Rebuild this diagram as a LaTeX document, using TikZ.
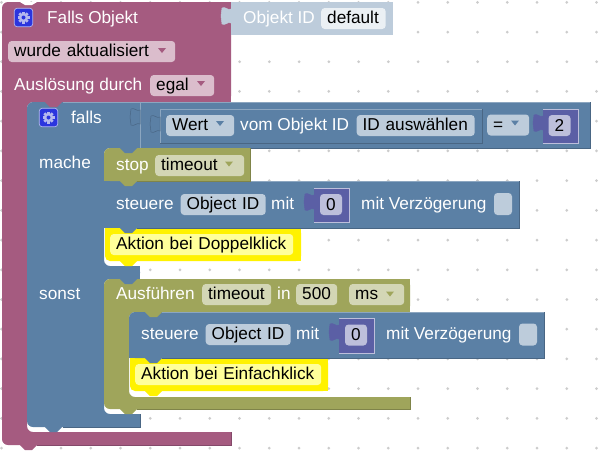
\documentclass[tikz,border=0pt]{standalone}
\usepackage{fontspec}
\setmainfont{Liberation Sans}
\usepackage{tikz}
\usetikzlibrary{positioning}
\definecolor{plum}{HTML}{A55B80}
\definecolor{plumfield}{HTML}{DBBDCC}
\definecolor{plumdark}{HTML}{84496A}
\definecolor{steel}{HTML}{5B80A5}
\definecolor{steelfield}{HTML}{BDCCDB}
\definecolor{steeldark}{HTML}{496684}
\definecolor{steellight}{HTML}{8CA6C0}
\definecolor{olive}{HTML}{9FA55B}
\definecolor{olivefield}{HTML}{D3D6B5}
\definecolor{olivedark}{HTML}{7F8449}
\definecolor{violet}{HTML}{5B5FA5}
\definecolor{violetfield}{HTML}{BDBFDB}
\definecolor{softyellow}{HTML}{FFFF99}
\definecolor{griddot}{HTML}{CCCCCC}
\definecolor{gearblue}{HTML}{2B35DE}
\definecolor{gearlight}{HTML}{B4B8EE}
\tikzset{
  fieldbox/.style={rounded corners=3.5pt, text=black, anchor=base west, align=left, inner xsep=6pt, inner ysep=1.5pt, text height=14pt, text depth=4pt},
  whitetext/.style={text=white, anchor=base west, inner sep=0pt},
  iconbox/.style={draw=gearlight, fill=gearblue, rounded corners=3pt, minimum size=18.5pt, inner sep=0pt, line width=0.7pt},
  emptybox/.style={fill=steelfield, rounded corners=3.5pt, minimum width=18pt, minimum height=22pt, inner sep=0pt},
  nfield/.style={fill=violetfield, rounded corners=3.5pt, text=black, minimum width=22pt, minimum height=21pt, inner sep=0pt}
}
% a notch, walked from left to right
\newcommand{\nr}{-- ++(5,5) -- ++(7,0) -- ++(5,-5)}
\newcommand{\pickarrow}[3]{\fill[#3] (#1-4,#2-2.5) -- ++(8,0) -- ++(-4,5) -- cycle;}
\newcommand{\puzzle}[3]{\filldraw[#3, line width=0.5pt] (#1,#2) .. controls (#1-3,#2+2) and (#1-6,#2-3) .. (#1-9,#2-1)
  -- (#1-10,#2+7) -- (#1-9,#2+15) .. controls (#1-6,#2+17) and (#1-3,#2+12) .. (#1,#2+14) -- cycle;}
\newcommand{\gear}[1]{
  \foreach \a in {0,45,...,315}
    \fill[gearlight, rotate around={\a:(#1)}] ([xshift=-1.3pt,yshift=3pt]#1) rectangle ([xshift=1.3pt,yshift=6pt]#1);
  \fill[gearlight] (#1) circle (4.6pt);
  \fill[gearblue] (#1) circle (2pt);
}
\begin{document}
\begin{tikzpicture}[x=1pt,y=-1pt,font=\fontsize{17.2}{20}\selectfont]
  \useasboundingbox (0,0) rectangle (601,451);
  \fill[white] (0,0) rectangle (601,451);
  \foreach \i in {0,...,20}
    \foreach \j in {0,...,15}
      \fill[griddot] (1.5+29.75*\i,2.3+29.72*\j) circle (1.5pt);

  % hat block
  \fill[plum, rounded corners=6pt] (2,20) -- (2,2) -- (231,2) -- (231,102) -- (27,102) -- (27,432) -- (231,432) -- (231,445) -- (37,445) -- (2,445) -- cycle;
  \fill[plum] (20,445) \nr -- cycle;
  \fill[plum] (225,2) rectangle (231,20);
  \fill[plum] (225,90) rectangle (231,102);
  \fill[plum] (220,432) rectangle (231,445);
  \fill[white] (20,2) -- (25,5) -- (32,5) -- (37,2) -- cycle;
  \draw[plumdark, line width=0.6pt] (37,445) -- (231,445) -- (231,432);

  % value block next to the hat
  \fill[steelfield] (231,2) rectangle (393,35);
  \puzzle{231}{9}{fill=steelfield, draw=steelfield}
  \node[iconbox] (gearhat) at (23.5,17.5) {};
  \gear{gearhat}
  \node[whitetext] (txthat) at (47,23.5) {Falls Objekt};
  \node[whitetext] (txtid) at (243,23.5) {Objekt ID};
  \node[fieldbox, fill=white!70!steelfield, text width=52.5pt] (flddefault) at (321,23.5) {default};
  \node[fieldbox, fill=plumfield, text width=155pt] (fldwurde) at (8,56.5) {wurde aktualisiert};
  \pickarrow{162}{50.5}{plum}
  \node[whitetext] (txtausl) at (14,90.5) {Auslösung durch};
  \node[fieldbox, fill=plumfield, text width=52pt] (fldegal) at (150,90.5) {egal};
  \pickarrow{201}{83.5}{plum}

  % if block
  \fill[steel, rounded corners=6pt] (27,125) -- (27,102) -- (590,102) -- (590,148) -- (104,148) -- (104,266) -- (140,266) -- (140,279) -- (104,279) -- (104,414) -- (140,414) -- (140,427) -- (27,427) -- cycle;
  \fill[steel] (570,102) rectangle (590,148);
  \fill[steel] (125,266) rectangle (140,279);
  \fill[steel] (125,414) rectangle (140,427);
  \fill[steel] (45,427) \nr -- cycle;
  \fill[plum] (45,102) \nr -- cycle;
  \draw[steeldark, line width=0.6pt] (140,148) -- (590,148) -- (590,102);
  \draw[steeldark, line width=0.6pt] (63,427) -- (140,427) -- (140,414);
  \draw[steellight, line width=0.6pt] (63,102) -- (590,102);
  \draw[steellight, line width=0.6pt] (140,102) -- (140,148);
  \puzzle{140}{110}{fill=steel, draw=steeldark}
  \node[iconbox] (gearif) at (48.5,117.5) {};
  \gear{gearif}
  \node[whitetext] (txtfalls) at (71,123.5) {falls};
  \node[whitetext] (txtmache) at (39,168.5) {mache};
  \node[whitetext] (txtsonst) at (39,299.5) {sonst};

  % condition
  \filldraw[fill=steel, draw=steeldark, line width=0.7pt] (160,109) rectangle (482,143);
  \draw[steellight, line width=0.6pt] (160,143) -- (160,109) -- (482,109);
  \puzzle{160}{117}{fill=steel, draw=steeldark}
  \node[fieldbox, fill=steelfield, text width=56pt] (fldwert) at (166,130.5) {Wert};
  \pickarrow{220}{123.5}{steel}
  \node[whitetext] (txtvom) at (240,130.5) {vom Objekt ID};
  \node[fieldbox, fill=steelfield, text width=106pt] (fldauswahl) at (356.5,130.5) {ID auswählen};
  \node[fieldbox, fill=steelfield, text width=30pt] (fldeq) at (487,130) {=};
  \pickarrow{515}{123}{steel}
  \fill[violet] (543,109) rectangle (578,143);
  \draw[violetfield, line width=0.6pt] (543,143) -- (578,143) -- (578,109) -- (543,109);
  \puzzle{543}{116}{fill=violet, draw=violet}
  \node[nfield] (fldtwo) at (559.5,125.5) {2};

  % then branch
  \fill[yellow, rounded corners=5pt] (105,240) -- (105,261) -- (301,261) -- (301,228) -- (105,228) -- cycle;
  \fill[yellow] (290,228) rectangle (301,261);
  \fill[yellow] (105,228) rectangle (115,245);
  \fill[yellow] (120,261) \nr -- cycle;
  \node[fieldbox, fill=softyellow, text width=171pt] (fldaktion) at (110,249.5) {Aktion bei Doppelklick};
  \fill[steel] (104,181) rectangle (519,228);
  \fill[steel] (120,228) \nr -- cycle;
  \draw[steeldark, line width=0.6pt] (137,228) -- (519,228) -- (519,181);
  \draw[steellight, line width=0.6pt] (250,181.5) -- (519,181.5);
  \node[whitetext] (txtst) at (116,209.5) {steuere};
  \node[fieldbox, fill=steelfield, text width=73pt] (fldobj) at (180.5,209.5) {Object ID};
  \node[whitetext] (txtmit) at (271,209.5) {mit};
  \fill[violet] (314,188) rectangle (349,222);
  \draw[violetfield, line width=0.6pt] (314,222) -- (349,222) -- (349,188) -- (314,188);
  \puzzle{314}{195}{fill=violet, draw=violet}
  \node[nfield] (fldzero) at (331,204.5) {0};
  \node[whitetext] (txtverz) at (361,209.5) {mit Verzögerung};
  \node[emptybox] (chkone) at (503,204) {};
  \fill[olive, rounded corners=6pt] (104,170) -- (104,148) -- (250,148) -- (250,181) -- (104,181) -- cycle;
  \fill[olive] (240,148) rectangle (250,181);
  \fill[olive] (104,165) rectangle (125,181);
  \fill[olive] (120,181) \nr -- cycle;
  \fill[steel] (120,148) \nr -- cycle;
  \draw[olivedark, line width=0.6pt] (137,181) -- (250,181) -- (250,148);
  \node[whitetext] (txtstop) at (116,170.5) {stop};
  \node[fieldbox, fill=olivefield, text width=77pt] (fldstop) at (155,170.5) {timeout};
  \pickarrow{229}{164}{olive}

  % else branch
  \fill[olive, rounded corners=6pt] (104,300) -- (104,279) -- (410,279) -- (410,312) -- (129,312) -- (129,397) -- (410,397) -- (410,409) -- (104,409) -- cycle;
  \fill[olive] (400,279) rectangle (410,312);
  \fill[olive] (400,397) rectangle (410,409);
  \fill[olive] (120,409) \nr -- cycle;
  \fill[steel] (120,279) \nr -- cycle;
  \draw[olivedark, line width=0.6pt] (137,409) -- (410,409) -- (410,397);
  \node[whitetext] (txtaus) at (116,299.5) {Ausführen};
  \node[fieldbox, fill=olivefield, text width=57pt] (fldtime) at (202,299.5) {timeout};
  \node[whitetext] (txtin) at (277,299.5) {in};
  \node[fieldbox, fill=olivefield, text width=29pt] (fldms) at (296,299.5) {500};
  \node[fieldbox, fill=olivefield, text width=43pt] (fldunit) at (349,299.5) {ms};
  \pickarrow{390}{294}{olive}
  \fill[yellow, rounded corners=5pt] (130,370) -- (130,391) -- (328,391) -- (328,358) -- (130,358) -- cycle;
  \fill[yellow] (315,358) rectangle (328,391);
  \fill[yellow] (130,358) rectangle (140,375);
  \fill[yellow] (145,391) \nr -- cycle;
  \node[fieldbox, fill=softyellow, text width=174pt] (fldein) at (135,379.5) {Aktion bei Einfachklick};
  \fill[steel, rounded corners=6pt] (129,335) -- (129,312) -- (544,312) -- (544,358) -- (129,358) -- cycle;
  \fill[steel] (530,312) rectangle (544,358);
  \fill[steel] (129,345) rectangle (150,358);
  \fill[steel] (145,358) \nr -- cycle;
  \fill[olive] (145,312) \nr -- cycle;
  \draw[steeldark, line width=0.6pt] (162,358) -- (544,358) -- (544,312);
  \draw[steellight, line width=0.6pt] (162,312) -- (544,312);
  \node[whitetext] (txtst2) at (141,339.5) {steuere};
  \node[fieldbox, fill=steelfield, text width=73pt] (fldobj2) at (205.5,339.5) {Object ID};
  \node[whitetext] (txtmit2) at (296,339.5) {mit};
  \fill[violet] (339,318) rectangle (374,353);
  \draw[violetfield, line width=0.6pt] (339,353) -- (374,353) -- (374,318) -- (339,318);
  \puzzle{339}{325}{fill=violet, draw=violet}
  \node[nfield] (fldzero2) at (356,335) {0};
  \node[whitetext] (txtverz2) at (386,339.5) {mit Verzögerung};
  \node[emptybox] (chktwo) at (528,334.5) {};
\end{tikzpicture}
\end{document}
